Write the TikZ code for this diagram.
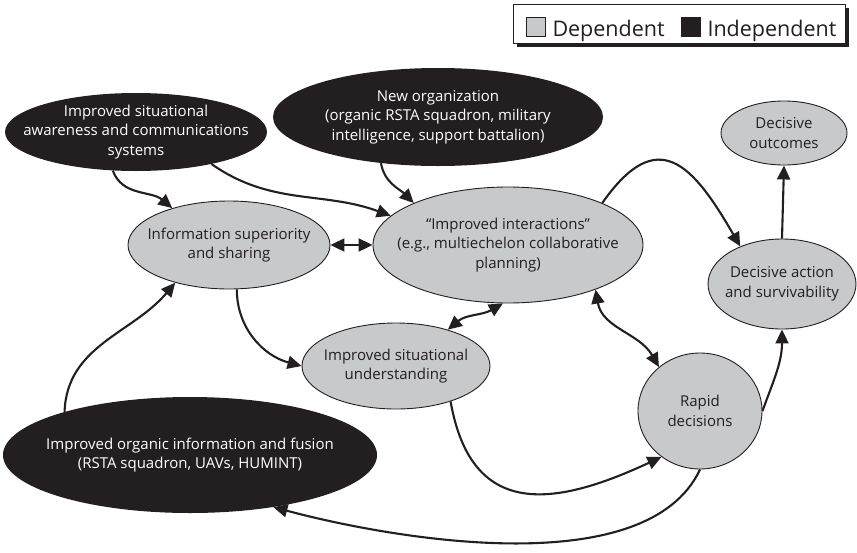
\documentclass[tikz,border=0pt]{standalone}
\usepackage{fontspec}
\setmainfont{Open Sans}
\usetikzlibrary{arrows.meta,shapes.geometric}

\definecolor{dep}{HTML}{C8C9CB}
\definecolor{indep}{HTML}{231F20}

\begin{document}
\begin{tikzpicture}[x=1pt, y=-1pt,
        every node/.style={font=\fontsize{15}{19.5}\selectfont, align=center, inner sep=0pt},
        dnode/.style={ellipse, draw=indep, line width=0.9pt, fill=dep},
        inode/.style={ellipse, fill=indep},
        link/.style={line width=2.1pt, draw=indep, -{Triangle[length=14pt, width=13pt]}},
        both/.style={link, {Triangle[length=14pt, width=13pt]}-{Triangle[length=14pt, width=13pt]}}]
        \useasboundingbox (0,0) rectangle (857,552);

        % legend
        \fill[indep] (517,8) rectangle (849,47);
        \draw[fill=white, line width=1pt, draw=indep] (513,4) rectangle (845,43);
        \foreach \c/\x/\t in {dep/535.5/Dependent, indep/690.5/Independent} {
            \node[draw=indep, line width=0.6pt, fill=\c, minimum size=19pt] (key\t) at (\x,26.5) {};
            \node[anchor=base west, text=indep, font=\fontsize{21.5}{24}\selectfont] at ([xshift=7pt]key\t.south east) {\t};
        }

        % independent factors
        \node[inode, minimum width=262pt, minimum height=78pt,
            label={[text=white]center:{Improved situational\\awareness and communications\\systems}}] (aware) at (136,132) {};
        \node[inode, minimum width=330pt, minimum height=98pt,
            label={[text=white]center:{New organization\\(organic RSTA squadron, military\\intelligence, support battalion)}}] (neworg) at (438,117) {};
        \node[inode, minimum width=374pt, minimum height=116pt,
            label={[text=white]center:{Improved organic information and fusion\\(RSTA squadron, UAVs, HUMINT)}}] (organic) at (190,455) {};

        % dependent factors
        \node[dnode, minimum width=202pt, minimum height=88pt,
            label={[text=indep]center:{Information superiority\\and sharing}}] (infosup) at (229,245) {};
        \node[dnode, minimum width=270pt, minimum height=116pt,
            label={[text=indep]center:{``Improved interactions''\\(e.g., multiechelon collaborative\\planning)}}] (interact) at (508,245) {};
        \node[dnode, minimum width=126pt, minimum height=64pt,
            label={[text=indep]center:{Decisive\\outcomes}}] (outcomes) at (784,133) {};
        \node[dnode, minimum width=148pt, minimum height=90pt,
            label={[text=indep]center:{Decisive action\\and survivability}}] (action) at (782,284) {};
        \node[dnode, minimum width=188pt, minimum height=86pt,
            label={[text=indep]center:{Improved situational\\understanding}}] (understand) at (396,366) {};
        \node[dnode, minimum width=124pt, minimum height=116pt,
            label={[text=indep]center:{Rapid\\decisions}}] (rapid) at (700,411) {};

        % links
        \draw[link] (aware.-121) to[out=-70, in=140] (infosup.147);
        \draw[link] (aware.-23) to[out=-35, in=160] (interact.166);
        \draw[link] (neworg.-141) to[out=-80, in=135] (interact.156);
        \draw[both] (infosup.east) -- (interact.west);
        \draw[link] (infosup.-80) to[out=-90, in=165] (understand.180);
        \draw[link] (organic.161) to[out=88, in=-130] (infosup.-145);
        \draw[both] (understand.35) to[out=40, in=-150] (interact.-95);
        \draw[both] (interact.-27) to[out=-80, in=120] (rapid.133);
        \draw[link] (understand.-33) to[out=-80, in=-155, looseness=1.4] (rapid.-130);
        \draw[link] (rapid.-90) to[out=-115, in=-15, looseness=0.75] (organic.-32);
        \draw[link] (rapid.0) to[out=70, in=-90] (action.-90);
        \draw[link] (action.90) -- (outcomes.-90);
        \draw[link] (interact.24) to[out=55, in=120, looseness=1.7] (action.138);
\end{tikzpicture}
\end{document}
